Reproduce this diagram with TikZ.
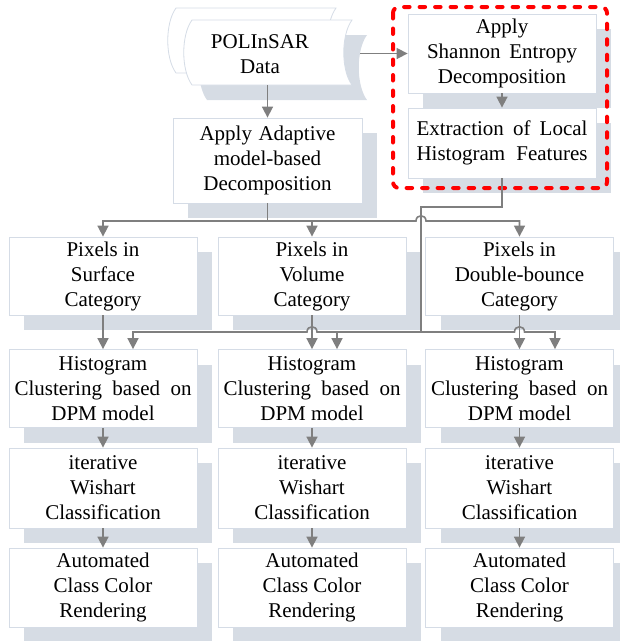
\documentclass[tikz,border=0pt]{standalone}
\usepackage{fontspec}
\setmainfont{Liberation Serif}
\newfontfamily\tmsfont{Liberation Serif}
\usetikzlibrary{arrows.meta,shadows}
\definecolor{shgrey}{HTML}{D6DCE4}
\definecolor{bordc}{HTML}{D5DCE6}
\definecolor{arrc}{HTML}{7F7F7F}
\begin{document}
\begin{tikzpicture}[x=1pt,y=-1pt,
  box/.style={draw=bordc,line width=0.8pt,fill=white,align=center,inner sep=0pt,
    minimum width=188pt,font=\tmsfont\fontsize{21}{25}\selectfont,
    drop shadow={shadow xshift=15pt,shadow yshift=-15pt,fill=shgrey,draw=none,opacity=1}},
  conn/.style={draw=arrc,line width=1.6pt},
  arr/.style={conn,-{Triangle[length=11pt,width=11pt]}},
  txt/.style={align=center,inner sep=0pt,font=\tmsfont\fontsize{21}{25}\selectfont}]
\useasboundingbox (0,0) rectangle (620,641);
% POLInSAR data shape
\filldraw[fill=white,draw=bordc,line width=0.8pt] (176,8) -- (336,8) .. controls (325,23) and (325,58) .. (336,73) -- (176,73) .. controls (165,58) and (165,23) .. (176,8) -- cycle;
\fill[shgrey] (207,35) -- (367,35) .. controls (356,50) and (356,85) .. (367,100) -- (207,100) .. controls (196,85) and (196,50) .. (207,35) -- cycle;
\filldraw[fill=white,draw=bordc,line width=0.8pt] (192,20) -- (352,20) .. controls (341,35) and (341,70) .. (352,85) -- (192,85) .. controls (181,70) and (181,35) .. (192,20) -- cycle;
\node[txt] (poli) at (260,54.5) {POLInSAR\\Data};
\coordinate (poliR) at (360,53.5);
\coordinate (poliB) at (267.5,85);
% top boxes
\node[box,minimum height=79pt] (shannon) at (502,53.5) {Apply\\\makebox[150pt][s]{Shannon Entropy}\\Decomposition};
\node[box,minimum height=70pt] (extract) at (502,143) {\makebox[171pt][s]{Extraction of Local}\\\makebox[171pt][s]{Histogram Features}};
\node[box,minimum width=189pt,minimum height=85pt] (adapt) at (267.5,160.5) {\makebox[136pt][s]{Apply Adaptive}\\model-based\\Decomposition};
% rows
\foreach \n/\x in {1/103,2/312,3/519.5}{
  \node[box,minimum height=78pt] (h\n) at (\x,388.5) {Histogram\\\makebox[177pt][s]{Clustering based on}\\DPM model};
  \node[box,minimum height=80pt] (w\n) at (\x,488) {iterative\\Wishart\\Classification};
  \node[box,minimum height=79pt] (a\n) at (\x,587.5) {Automated\\Class Color\\Rendering};
}
\node[box,minimum height=78pt] (p1) at (103,276) {Pixels in\\Surface\\Category};
\node[box,minimum height=78pt] (p2) at (312,276) {Pixels in\\Volume\\Category};
\node[box,minimum height=78pt] (p3) at (519.5,276) {Pixels in\\Double-bounce\\Category};
% red dashed frame
\draw[red,line width=4pt,line cap=round,dash pattern=on 5.5pt off 10pt,rounded corners=6pt] (393,7) rectangle (607,188);
% connectors top
\draw[arr] (poliR) -- (shannon.west);
\draw[arr] (poliB) -- (adapt.north);
\draw[arr] (shannon.south) -- (extract.north);
% adaptive distribution
\coordinate (k) at (267.5,221);
\draw[conn] (adapt.south) -- (k);
\draw[arr] (k) -- (p1.north |- k) -- (p1.north);
\draw[arr] (k) -- (p2.north |- k) -- (p2.north);
\draw[arr] (p2.north |- k) -- (416,221) .. controls (416,214) and (426,214) .. (426,221) -- (p3.north |- k) -- (p3.north);
% extraction distribution
\coordinate (j1) at (421,207);
\coordinate (j2) at (421,332);
\coordinate (t1) at ([xshift=30pt]h1.north);
\coordinate (t2) at ([xshift=25pt]h2.north);
\coordinate (t3) at ([xshift=35.5pt]h3.north);
\draw[conn] (extract.south) |- (j1) -- (j2);
\draw[arr] (j2) -- (t2 |- j2) -- (t2);
\draw[arr] (t2 |- j2) -- (317,332) .. controls (317,325) and (307,325) .. (307,332) -- (t1 |- j2) -- (t1);
\draw[arr] (j2) -- (514.5,332) .. controls (514.5,325) and (524.5,325) .. (524.5,332) -- (t3 |- j2) -- (t3);
% column stems
\foreach \n in {1,2,3}{
  \draw[arr] (p\n.south) -- (h\n.north);
  \draw[arr] (h\n.south) -- (w\n.north);
  \draw[arr] (w\n.south) -- (a\n.north);
}
\end{tikzpicture}
\end{document}
